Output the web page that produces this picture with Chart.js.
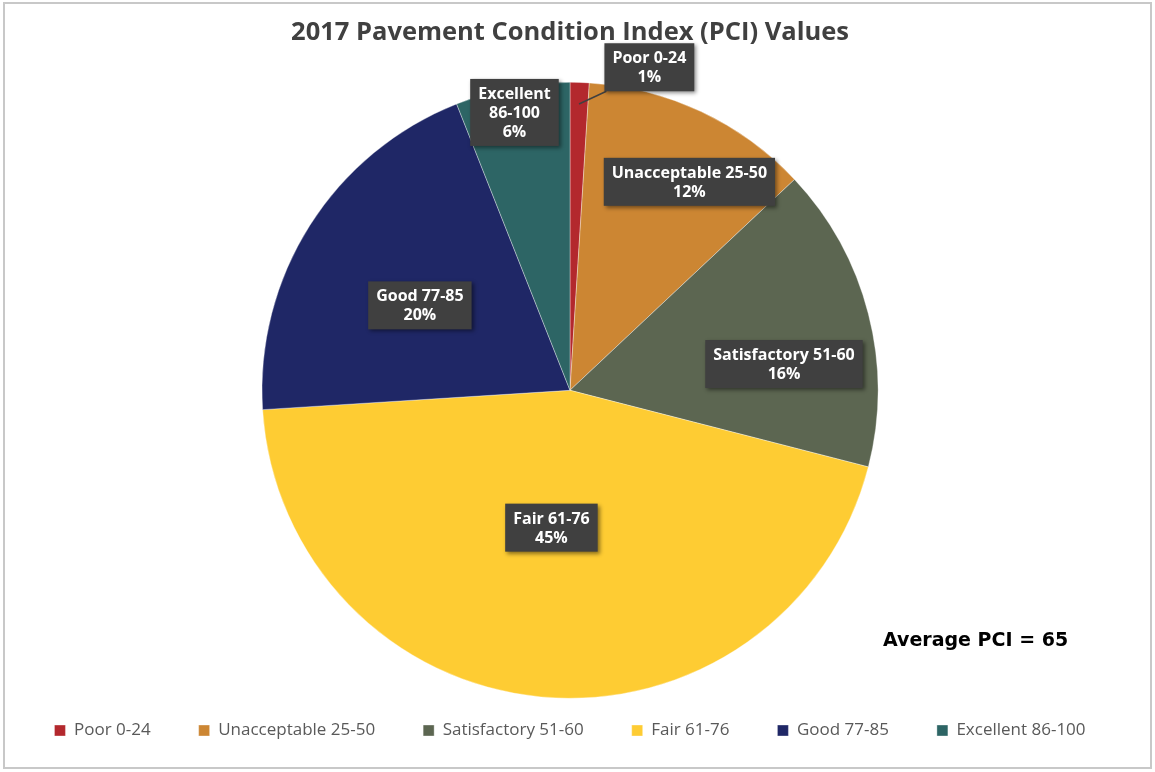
<!DOCTYPE html>
<html lang="en">
<head>
  <meta charset="UTF-8">
  <script src="https://cdn.jsdelivr.net/npm/chart.js"></script>
  <title>2017 PCI Values</title>
  <style>
    html, body { margin: 0; padding: 0; background: #fff; }
    #wrap { width: 1155px; height: 772px; }
  </style>
</head>
<body>
  <div id="wrap"><canvas id="pci-chart"></canvas></div>
  <script>
  // categories and share of network (percent)
  var categories = ['Poor 0-24', 'Unacceptable 25-50', 'Satisfactory 51-60', 'Fair 61-76', 'Good 77-85', 'Excellent 86-100'];
  var shares = [1, 12, 16, 45, 20, 6];
  var sliceColors = ['#B3282D', '#CC8633', '#5C6651', '#FECC33', '#1F2766', '#2D6565'];
  var averagePci = 65;

  // where each dark label box sits: fraction of radius, extra angle (deg), wrap name onto lines
  var labelSpots = [
    { r: 1.08, shift: 12, wrap: false },
    { r: 0.78, shift: 4.6, wrap: false },
    { r: 0.70, shift: 7.4, wrap: false },
    { r: 0.45, shift: 2.3, wrap: false },
    { r: 0.56, shift: -2.9, wrap: false },
    { r: 0.92, shift: -0.5, wrap: true }
  ];

  const frame = {
    id: 'frame',
    beforeDraw(chart) {
      const ctx = chart.ctx;
      ctx.save();
      ctx.fillStyle = '#fff';
      ctx.fillRect(0, 0, chart.width, chart.height);
      ctx.strokeStyle = '#c8c8c8';
      ctx.lineWidth = 2;
      ctx.strokeRect(4, 3, chart.width - 8, chart.height - 7);
      ctx.restore();
    }
  };

  const sliceLabels = {
    id: 'sliceLabels',
    afterDatasetsDraw(chart) {
      const ctx = chart.ctx;
      const meta = chart.getDatasetMeta(0);
      ctx.save();
      ctx.font = 'bold 16px "Open Sans"';
      ctx.textAlign = 'center';
      ctx.textBaseline = 'middle';
      meta.data.forEach(function (arc, i) {
        const spot = labelSpots[i];
        const mid = (arc.startAngle + arc.endAngle) / 2;
        const ang = mid + spot.shift * Math.PI / 180;
        const rr = arc.outerRadius * spot.r;
        const x = arc.x + Math.cos(ang) * rr;
        const y = arc.y + Math.sin(ang) * rr;

        var lines = spot.wrap ? categories[i].split(' ') : [categories[i]];
        lines.push(shares[i] + '%');
        var w = 0;
        lines.forEach(function (t) { w = Math.max(w, ctx.measureText(t).width); });
        const lh = 19;
        const bw = w + 16;
        const bh = lines.length * lh + 10;
        const bx = x - bw / 2;
        const by = y - bh / 2;

        if (spot.r > 1) {
          // leader line from slice edge to box
          const ex = arc.x + Math.cos(mid) * arc.outerRadius * 0.93;
          const ey = arc.y + Math.sin(mid) * arc.outerRadius * 0.93;
          ctx.strokeStyle = '#404040';
          ctx.lineWidth = 1.5;
          ctx.beginPath();
          ctx.moveTo(ex, ey);
          ctx.lineTo(bx + 2, by + bh);
          ctx.stroke();
        }

        ctx.shadowColor = 'rgba(0,0,0,0.45)';
        ctx.shadowBlur = 4;
        ctx.shadowOffsetX = 2;
        ctx.shadowOffsetY = 2;
        ctx.fillStyle = '#404040';
        ctx.fillRect(bx, by, bw, bh);
        ctx.shadowColor = 'transparent';
        ctx.fillStyle = '#ffffff';
        lines.forEach(function (t, k) {
          ctx.fillText(t, x, by + 5 + lh * k + lh / 2 + 1);
        });
      });
      ctx.restore();

      ctx.save();
      ctx.font = 'bold 19px "DejaVu Sans"';
      ctx.fillStyle = '#000';
      ctx.textAlign = 'left';
      ctx.textBaseline = 'middle';
      ctx.fillText('Average PCI = ' + averagePci, 883, 641);
      ctx.restore();
    }
  };

  const config = {
    type: 'pie',
    data: {
      labels: categories,
      datasets: [{
        data: shares,
        backgroundColor: sliceColors,
        borderColor: 'rgba(255,255,255,0.35)',
        borderWidth: 1,
        radius: 308
      }]
    },
    options: {
      responsive: true,
      maintainAspectRatio: false,
      animation: false,
      layout: { padding: { top: 17, bottom: 23, left: 0, right: 15 } },
      plugins: {
        title: {
          display: true,
          text: '2017 Pavement Condition Index (PCI) Values',
          color: '#404040',
          font: { family: '"Open Sans"', size: 25.5, weight: 'bold' },
          padding: { top: 0, bottom: 59 }
        },
        legend: {
          position: 'bottom',
          labels: {
            color: '#595959',
            font: { family: '"Open Sans"', size: 17 },
            boxWidth: 11,
            boxHeight: 11,
            padding: 48
          }
        },
        tooltip: { enabled: false }
      }
    },
    plugins: [frame, sliceLabels]
  };

  var ctx = document.getElementById('pci-chart').getContext('2d');
  var pciChart = new Chart(ctx, config);
  </script>
</body>
</html>
